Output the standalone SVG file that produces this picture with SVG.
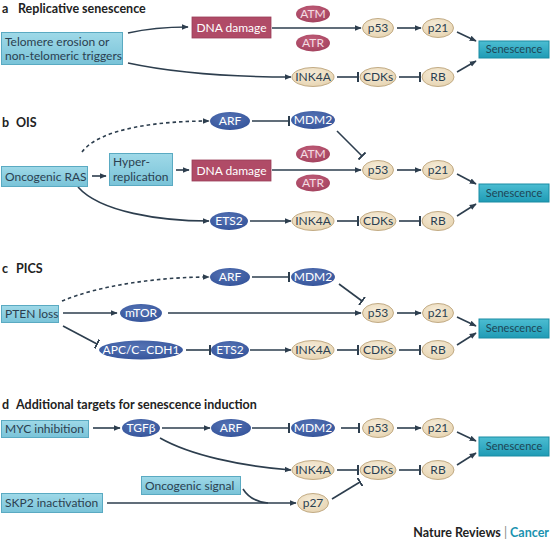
<svg xmlns="http://www.w3.org/2000/svg" width="550" height="541" viewBox="0 0 550 541">
<style>
.bg{fill:#ffffff}
.t{font-family:Lato,"Open Sans","Liberation Sans",sans-serif;font-size:12px;fill:#2b3f50}
.tt{font-family:Lato,"Open Sans","Liberation Sans",sans-serif;font-size:12.5px;font-weight:bold;fill:#222}
.w{font-family:Lato,"Open Sans","Liberation Sans",sans-serif;font-size:12px;fill:#ffffff}
.wp{font-family:Lato,"Open Sans","Liberation Sans",sans-serif;font-size:12px;fill:#f3dde3}
.sen{font-family:Lato,"Open Sans","Liberation Sans",sans-serif;font-size:11px;fill:#1d4656}
.box{fill:url(#gBox);stroke:#5aaac2;stroke-width:1}
.sbox{fill:url(#gSen);stroke:#1a8ca3;stroke-width:1}
.dna{fill:#b04b67;stroke:#9a3d57;stroke-width:0.8}
.red{fill:url(#gRed)}
.blue{fill:url(#gBlue)}
.beige{fill:url(#gBei);stroke:#c2ab84;stroke-width:1}
.ln{fill:none;stroke:#2d3e4e;stroke-width:1.6}
.ar{marker-end:url(#arr)}
.in{marker-end:url(#bar)}
.ds{stroke-dasharray:3.5,3}
</style>
<defs>
<linearGradient id="gBox" x1="0" y1="0" x2="0" y2="1"><stop offset="0" stop-color="#9fd9e8"/><stop offset="1" stop-color="#79c3d8"/></linearGradient>
<linearGradient id="gSen" x1="0" y1="0" x2="0" y2="1"><stop offset="0" stop-color="#4cbdd2"/><stop offset="1" stop-color="#1f9bb5"/></linearGradient>
<radialGradient id="gRed" cx="0.45" cy="0.35" r="0.7"><stop offset="0" stop-color="#c35f7b"/><stop offset="1" stop-color="#a2415d"/></radialGradient>
<radialGradient id="gBlue" cx="0.45" cy="0.35" r="0.7"><stop offset="0" stop-color="#5674b5"/><stop offset="1" stop-color="#34539a"/></radialGradient>
<radialGradient id="gBei" cx="0.45" cy="0.35" r="0.7"><stop offset="0" stop-color="#f6ecd8"/><stop offset="1" stop-color="#e6d3b0"/></radialGradient>
<marker id="arr" viewBox="0 0 10 10" refX="9" refY="5" markerWidth="7" markerHeight="7" orient="auto" markerUnits="userSpaceOnUse"><path d="M0,1 L10,5 L0,9 z" fill="#2d3e4e"/></marker>
<marker id="bar" viewBox="0 0 2 10" refX="1" refY="5" markerWidth="2" markerHeight="10" orient="auto" markerUnits="userSpaceOnUse"><rect x="0" y="0" width="2" height="10" fill="#2d3e4e"/></marker>
</defs>
<rect class="bg" x="0" y="0" width="550" height="541"/>

<!-- titles -->
<g id="titles">
<text class="tt" x="2" y="13">a<tspan x="18">Replicative senescence</tspan></text>
<text class="tt" x="2" y="127">b<tspan x="16">OIS</tspan></text>
<text class="tt" x="2" y="273">c<tspan x="16">PICS</tspan></text>
<text class="tt" x="2" y="409">d<tspan x="16">Additional targets for senescence induction</tspan></text>
</g>

<!-- connectors -->
<g id="connectors">
<!-- a -->
<path class="ln ar" d="M128,33 C150,28 170,27 188,27"/>
<path class="ln ar" d="M128,63 C170,72 230,77 291,77"/>
<path class="ln ar" d="M272,28 L361,28"/>
<path class="ln ar" d="M397,28 L421,28"/>
<path class="ln ar" d="M457,32 L476,41"/>
<path class="ln in" d="M337,77 L358,77"/>
<path class="ln in" d="M399,77 L420,77"/>
<path class="ln ar" d="M457,72 L476,61"/>
<!-- b -->
<path class="ln ar ds" d="M82,152 C100,128 160,121 209,121"/>
<path class="ln in" d="M252,121 L289,121"/>
<path class="ln in" d="M337,131 L362,156"/>
<path class="ln ar" d="M92,176 L106,176"/>
<path class="ln ar" d="M176,170 L189,170"/>
<path class="ln ar" d="M272,170 L361,170"/>
<path class="ln ar" d="M397,170 L421,170"/>
<path class="ln ar" d="M78,187 C100,212 160,221 209,221"/>
<path class="ln ar" d="M250,221 L291,221"/>
<path class="ln in" d="M337,221 L358,221"/>
<path class="ln in" d="M399,221 L420,221"/>
<path class="ln ar" d="M457,174 L476,184"/>
<path class="ln ar" d="M457,216 L476,204"/>
<!-- c -->
<path class="ln ar ds" d="M62,301 C100,285 160,277 209,277"/>
<path class="ln in" d="M252,277 L289,277"/>
<path class="ln in" d="M339,284 L362,301"/>
<path class="ln ar" d="M63,313 L117,313"/>
<path class="ln ar" d="M168,313 L361,313"/>
<path class="ln ar" d="M397,313 L421,313"/>
<path class="ln in" d="M63,326 L97,344"/>
<path class="ln in" d="M186,350 L210,350"/>
<path class="ln ar" d="M250,350 L291,350"/>
<path class="ln in" d="M337,350 L358,350"/>
<path class="ln in" d="M399,350 L420,350"/>
<path class="ln ar" d="M457,317 L476,326"/>
<path class="ln ar" d="M457,345 L476,333"/>
<!-- d -->
<path class="ln ar" d="M93,428 L120,428"/>
<path class="ln ar" d="M162,428 L210,428"/>
<path class="ln in" d="M252,428 L289,428"/>
<path class="ln in" d="M341,428 L359,428"/>
<path class="ln ar" d="M397,428 L421,428"/>
<path class="ln ar" d="M457,432 L476,441"/>
<path class="ln ar" d="M160,438 C190,455 240,466 291,470"/>
<path class="ln in" d="M337,470 L358,470"/>
<path class="ln in" d="M399,470 L420,470"/>
<path class="ln ar" d="M457,465 L476,453"/>
<path class="ln ar" d="M107,503 L296,503"/>
<path class="ln" d="M243,489 C248,497 255,502 268,503"/>
<path class="ln in" d="M332,499 L360,482"/>
</g>

<!-- panel a nodes -->
<g id="a-telomere"><rect class="box" x="1.5" y="32.5" width="121" height="32"/><text class="t" x="5" y="46">Telomere erosion or</text><text class="t" x="5" y="60">non-telomeric triggers</text></g>
<g id="a-dna"><rect class="dna" x="192" y="17" width="79" height="21"/><text class="w" x="231.5" y="32" text-anchor="middle">DNA damage</text></g>
<g id="a-atm"><ellipse class="red" cx="313" cy="14" rx="17" ry="8.5"/><text class="wp" x="313" y="18" text-anchor="middle">ATM</text></g>
<g id="a-atr"><ellipse class="red" cx="313" cy="43" rx="17" ry="8.5"/><text class="wp" x="313" y="47" text-anchor="middle">ATR</text></g>
<g id="a-p53"><ellipse class="beige" cx="378" cy="28" rx="15.5" ry="9.5"/><text class="t" x="378" y="32" text-anchor="middle">p53</text></g>
<g id="a-p21"><ellipse class="beige" cx="438" cy="28" rx="15.5" ry="9.5"/><text class="t" x="438" y="32" text-anchor="middle">p21</text></g>
<g id="a-ink4a"><ellipse class="beige" cx="313" cy="77" rx="21" ry="9.5"/><text class="t" x="313" y="81" text-anchor="middle">INK4A</text></g>
<g id="a-cdks"><ellipse class="beige" cx="378" cy="77" rx="18" ry="9.5"/><text class="t" x="378" y="81" text-anchor="middle">CDKs</text></g>
<g id="a-rb"><ellipse class="beige" cx="438" cy="77" rx="16" ry="9.5"/><text class="t" x="438" y="81" text-anchor="middle">RB</text></g>
<g id="a-sen"><rect class="sbox" x="479" y="41" width="70" height="17"/><text class="sen" x="514" y="53" text-anchor="middle">Senescence</text></g>

<!-- panel b nodes -->
<g id="b-ras"><rect class="box" x="1.5" y="166.5" width="86" height="20"/><text class="t" x="5" y="181">Oncogenic RAS</text></g>
<g id="b-hyper"><rect class="box" x="109.5" y="153.5" width="63" height="32"/><text class="t" x="113" y="166">Hyper-</text><text class="t" x="113" y="181">replication</text></g>
<g id="b-dna"><rect class="dna" x="192" y="160" width="79" height="21"/><text class="w" x="231.5" y="175" text-anchor="middle">DNA damage</text></g>
<g id="b-arf"><ellipse class="blue" cx="230" cy="121" rx="20" ry="9"/><text class="w" x="230" y="125" text-anchor="middle">ARF</text></g>
<g id="b-mdm2"><ellipse class="blue" cx="313" cy="120" rx="22" ry="9"/><text class="w" x="313" y="124" text-anchor="middle">MDM2</text></g>
<g id="b-atm"><ellipse class="red" cx="313" cy="154" rx="17" ry="8.5"/><text class="wp" x="313" y="158" text-anchor="middle">ATM</text></g>
<g id="b-atr"><ellipse class="red" cx="313" cy="183" rx="17" ry="8.5"/><text class="wp" x="313" y="187" text-anchor="middle">ATR</text></g>
<g id="b-p53"><ellipse class="beige" cx="378" cy="170" rx="15.5" ry="9.5"/><text class="t" x="378" y="174" text-anchor="middle">p53</text></g>
<g id="b-p21"><ellipse class="beige" cx="438" cy="170" rx="15.5" ry="9.5"/><text class="t" x="438" y="174" text-anchor="middle">p21</text></g>
<g id="b-ets2"><ellipse class="blue" cx="229" cy="221" rx="19" ry="9"/><text class="w" x="229" y="225" text-anchor="middle">ETS2</text></g>
<g id="b-ink4a"><ellipse class="beige" cx="313" cy="221" rx="21" ry="9.5"/><text class="t" x="313" y="225" text-anchor="middle">INK4A</text></g>
<g id="b-cdks"><ellipse class="beige" cx="378" cy="221" rx="18" ry="9.5"/><text class="t" x="378" y="225" text-anchor="middle">CDKs</text></g>
<g id="b-rb"><ellipse class="beige" cx="438" cy="221" rx="16" ry="9.5"/><text class="t" x="438" y="225" text-anchor="middle">RB</text></g>
<g id="b-sen"><rect class="sbox" x="479" y="184" width="70" height="18"/><text class="sen" x="514" y="197" text-anchor="middle">Senescence</text></g>

<!-- panel c nodes -->
<g id="c-pten"><rect class="box" x="1.5" y="305.5" width="57" height="17"/><text class="t" x="5" y="318">PTEN loss</text></g>
<g id="c-arf"><ellipse class="blue" cx="230" cy="277" rx="20" ry="9"/><text class="w" x="230" y="281" text-anchor="middle">ARF</text></g>
<g id="c-mdm2"><ellipse class="blue" cx="313" cy="277" rx="22" ry="9"/><text class="w" x="313" y="281" text-anchor="middle">MDM2</text></g>
<g id="c-mtor"><ellipse class="blue" cx="141" cy="313" rx="21" ry="9"/><text class="w" x="141" y="317" text-anchor="middle">mTOR</text></g>
<g id="c-p53"><ellipse class="beige" cx="378" cy="313" rx="15.5" ry="9.5"/><text class="t" x="378" y="317" text-anchor="middle">p53</text></g>
<g id="c-p21"><ellipse class="beige" cx="438" cy="313" rx="15.5" ry="9.5"/><text class="t" x="438" y="317" text-anchor="middle">p21</text></g>
<g id="c-apc"><ellipse class="blue" cx="141" cy="350" rx="42" ry="9.5"/><text class="w" x="141" y="354" text-anchor="middle">APC/C–CDH1</text></g>
<g id="c-ets2"><ellipse class="blue" cx="230" cy="350" rx="19" ry="9"/><text class="w" x="230" y="354" text-anchor="middle">ETS2</text></g>
<g id="c-ink4a"><ellipse class="beige" cx="313" cy="350" rx="21" ry="9.5"/><text class="t" x="313" y="354" text-anchor="middle">INK4A</text></g>
<g id="c-cdks"><ellipse class="beige" cx="378" cy="350" rx="18" ry="9.5"/><text class="t" x="378" y="354" text-anchor="middle">CDKs</text></g>
<g id="c-rb"><ellipse class="beige" cx="438" cy="350" rx="16" ry="9.5"/><text class="t" x="438" y="354" text-anchor="middle">RB</text></g>
<g id="c-sen"><rect class="sbox" x="479" y="319" width="70" height="19"/><text class="sen" x="514" y="332" text-anchor="middle">Senescence</text></g>

<!-- panel d nodes -->
<g id="d-myc"><rect class="box" x="1.5" y="420.5" width="87" height="17"/><text class="t" x="5" y="433">MYC inhibition</text></g>
<g id="d-tgfb"><ellipse class="blue" cx="141" cy="428" rx="19" ry="9"/><text class="w" x="141" y="432" text-anchor="middle">TGFβ</text></g>
<g id="d-arf"><ellipse class="blue" cx="231" cy="428" rx="20" ry="9"/><text class="w" x="231" y="432" text-anchor="middle">ARF</text></g>
<g id="d-mdm2"><ellipse class="blue" cx="313" cy="428" rx="22" ry="9"/><text class="w" x="313" y="432" text-anchor="middle">MDM2</text></g>
<g id="d-p53"><ellipse class="beige" cx="378" cy="428" rx="15.5" ry="9.5"/><text class="t" x="378" y="432" text-anchor="middle">p53</text></g>
<g id="d-p21"><ellipse class="beige" cx="438" cy="428" rx="15.5" ry="9.5"/><text class="t" x="438" y="432" text-anchor="middle">p21</text></g>
<g id="d-sen"><rect class="sbox" x="479" y="437" width="70" height="19"/><text class="sen" x="514" y="450" text-anchor="middle">Senescence</text></g>
<g id="d-ink4a"><ellipse class="beige" cx="313" cy="470" rx="21" ry="9.5"/><text class="t" x="313" y="474" text-anchor="middle">INK4A</text></g>
<g id="d-cdks"><ellipse class="beige" cx="378" cy="470" rx="18" ry="9.5"/><text class="t" x="378" y="474" text-anchor="middle">CDKs</text></g>
<g id="d-rb"><ellipse class="beige" cx="438" cy="470" rx="16" ry="9.5"/><text class="t" x="438" y="474" text-anchor="middle">RB</text></g>
<g id="d-onc"><rect class="box" x="141.5" y="476.5" width="99" height="18"/><text class="t" x="145" y="490">Oncogenic signal</text></g>
<g id="d-skp2"><rect class="box" x="1.5" y="493.5" width="101" height="19"/><text class="t" x="5" y="507">SKP2 inactivation</text></g>
<g id="d-p27"><ellipse class="beige" cx="313" cy="503" rx="15.5" ry="9.5"/><text class="t" x="313" y="507" text-anchor="middle">p27</text></g>

<g id="credit"><text class="tt" x="549" y="537" text-anchor="end" style="font-size:12.5px">Nature Reviews <tspan fill="#8a8a8a" font-weight="normal">|</tspan> <tspan fill="#1a93b0">Cancer</tspan></text></g>
</svg>
